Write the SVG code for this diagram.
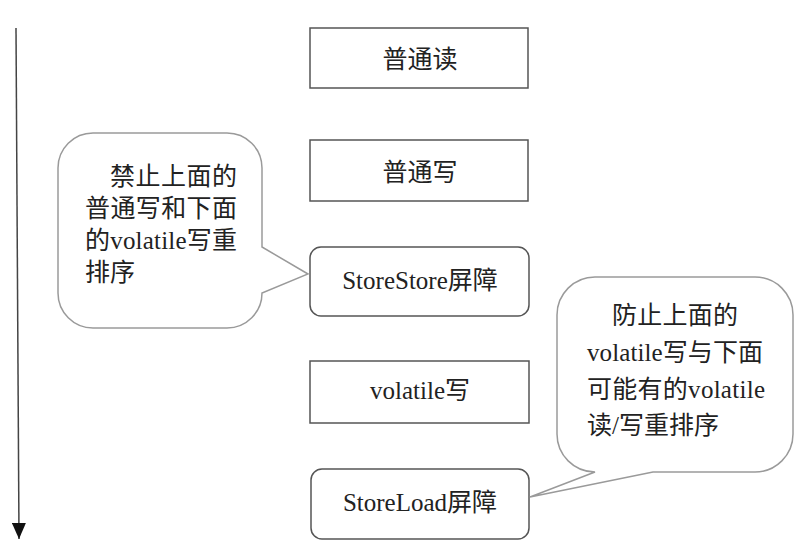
<svg xmlns="http://www.w3.org/2000/svg" width="808" height="550" viewBox="0 0 808 550">
<style>
text{font-family:"Liberation Serif","Noto Sans CJK SC",serif;font-size:25px;fill:#222}
.box{fill:#fff;stroke:#555;stroke-width:1.5}
.call{fill:#fff;stroke:#9a9a9a;stroke-width:1.5}
.c{text-anchor:middle}
</style>
<defs>
<marker id="ah" markerWidth="16" markerHeight="14" refX="16" refY="7" orient="auto" markerUnits="userSpaceOnUse" viewBox="0 0 16 14">
<path d="M0,0 L16,7 L0,14 Z" fill="#111"/>
</marker>
</defs>
<g id="connectors">
<line x1="16" y1="28" x2="19" y2="539" stroke="#444" stroke-width="1.5" marker-end="url(#ah)"/>
</g>
<g id="n1"><rect class="box" x="310" y="28" width="218" height="60"/><text class="c" x="420" y="68">普通读</text></g>
<g id="n2"><rect class="box" x="310" y="140" width="218" height="61"/><text class="c" x="420" y="181">普通写</text></g>
<g id="n3"><rect class="box" x="310" y="247" width="219" height="69" rx="11"/><text class="c" x="420" y="289">StoreStore屏障</text></g>
<g id="n4"><rect class="box" x="310" y="361" width="219" height="62"/><text class="c" x="420" y="399">volatile写</text></g>
<g id="n5"><rect class="box" x="311" y="469" width="218" height="70" rx="11"/><text class="c" x="420" y="511">StoreLoad屏障</text></g>
<g id="callout1">
<path class="call" d="M93,133 H227 A35 35 0 0 1 262,168 V247 L308,274 L262,293 A35 35 0 0 1 227,328 H93 A35 35 0 0 1 58,293 V168 A35 35 0 0 1 93,133 Z"/>
<text x="110" y="185" textLength="127">禁止上面的</text>
<text x="85" y="217" textLength="152">普通写和下面</text>
<text x="85" y="249" textLength="152">的volatile写重</text>
<text x="85" y="281">排序</text>
</g>
<g id="callout2">
<path class="call" d="M595,277 H755 A38 38 0 0 1 793,315 V434 A38 38 0 0 1 755,472 H653 L530,497 L595,472 A38 38 0 0 1 557,434 V315 A38 38 0 0 1 595,277 Z"/>
<text x="612" y="324" textLength="126">防止上面的</text>
<text x="587" y="361" textLength="176">volatile写与下面</text>
<text x="587" y="398" textLength="178">可能有的volatile</text>
<text x="587" y="434">读/写重排序</text>
</g>
</svg>
